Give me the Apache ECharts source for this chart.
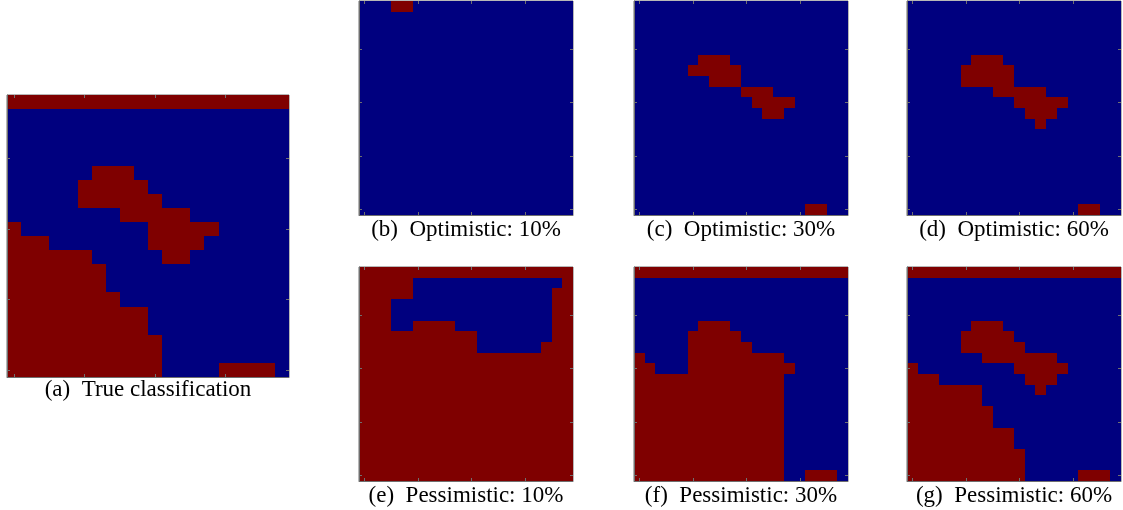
<!doctype html>
<html>
    <head>
        <meta charset="utf-8">
        <title>Classification maps</title>
        <style>
            html, body { margin: 0; padding: 0; background: #fff; }
            #main { width: 1123px; height: 510px; }
        </style>
    </head>
    <body>
        <div id="main"></div>
        <script src="https://cdn.jsdelivr.net/npm/echarts@6/dist/echarts.min.js"></script>
        <script>
            // 20x20 maps, rows listed top to bottom, 1 = red class, 0 = blue class
            var trueClass = [
                '11111111111111111111',
                '00000000000000000000',
                '00000000000000000000',
                '00000000000000000000',
                '00000000000000000000',
                '00000011100000000000',
                '00000111110000000000',
                '00000111111000000000',
                '00000000111110000000',
                '10000000001111100000',
                '11100000001111000000',
                '11111100000110000000',
                '11111110000000000000',
                '11111110000000000000',
                '11111111000000000000',
                '11111111110000000000',
                '11111111110000000000',
                '11111111111000000000',
                '11111111111000000000',
                '11111111111000011110'
            ];
            var optimistic10 = [
                '00011000000000000000',
                '00000000000000000000',
                '00000000000000000000',
                '00000000000000000000',
                '00000000000000000000',
                '00000000000000000000',
                '00000000000000000000',
                '00000000000000000000',
                '00000000000000000000',
                '00000000000000000000',
                '00000000000000000000',
                '00000000000000000000',
                '00000000000000000000',
                '00000000000000000000',
                '00000000000000000000',
                '00000000000000000000',
                '00000000000000000000',
                '00000000000000000000',
                '00000000000000000000',
                '00000000000000000000'
            ];
            var optimistic30 = [
                '00000000000000000000',
                '00000000000000000000',
                '00000000000000000000',
                '00000000000000000000',
                '00000000000000000000',
                '00000011100000000000',
                '00000111110000000000',
                '00000001110000000000',
                '00000000001110000000',
                '00000000000111100000',
                '00000000000011000000',
                '00000000000000000000',
                '00000000000000000000',
                '00000000000000000000',
                '00000000000000000000',
                '00000000000000000000',
                '00000000000000000000',
                '00000000000000000000',
                '00000000000000000000',
                '00000000000000001100'
            ];
            var optimistic60 = [
                '00000000000000000000',
                '00000000000000000000',
                '00000000000000000000',
                '00000000000000000000',
                '00000000000000000000',
                '00000011100000000000',
                '00000111110000000000',
                '00000111110000000000',
                '00000000111110000000',
                '00000000001111100000',
                '00000000000111000000',
                '00000000000010000000',
                '00000000000000000000',
                '00000000000000000000',
                '00000000000000000000',
                '00000000000000000000',
                '00000000000000000000',
                '00000000000000000000',
                '00000000000000000000',
                '00000000000000001100'
            ];
            var pessimistic10 = [
                '11111111111111111111',
                '11111000000000000001',
                '11111000000000000011',
                '11100000000000000011',
                '11100000000000000011',
                '11100111100000000011',
                '11111111111000000011',
                '11111111111000000111',
                '11111111111111111111',
                '11111111111111111111',
                '11111111111111111111',
                '11111111111111111111',
                '11111111111111111111',
                '11111111111111111111',
                '11111111111111111111',
                '11111111111111111111',
                '11111111111111111111',
                '11111111111111111111',
                '11111111111111111111',
                '11111111111111111111'
            ];
            var pessimistic30 = [
                '11111111111111111111',
                '00000000000000000000',
                '00000000000000000000',
                '00000000000000000000',
                '00000000000000000000',
                '00000011100000000000',
                '00000111110000000000',
                '00000111111000000000',
                '10000111111111000000',
                '11000111111111100000',
                '11111111111111000000',
                '11111111111111000000',
                '11111111111111000000',
                '11111111111111000000',
                '11111111111111000000',
                '11111111111111000000',
                '11111111111111000000',
                '11111111111111000000',
                '11111111111111000000',
                '11111111111111001110'
            ];
            var pessimistic60 = [
                '11111111111111111111',
                '00000000000000000000',
                '00000000000000000000',
                '00000000000000000000',
                '00000000000000000000',
                '00000011100000000000',
                '00000111110000000000',
                '00000111111000000000',
                '00000001111111000000',
                '10000000001111100000',
                '11100000000111000000',
                '11111110000010000000',
                '11111110000000000000',
                '11111111000000000000',
                '11111111000000000000',
                '11111111110000000000',
                '11111111110000000000',
                '11111111111000000000',
                '11111111111000000000',
                '11111111111000001110'
            ];
            var captions = [
                '(a)  True classification',
                '(b)  Optimistic: 10%',
                '(c)  Optimistic: 30%',
                '(d)  Optimistic: 60%',
                '(e)  Pessimistic: 10%',
                '(f)  Pessimistic: 30%',
                '(g)  Pessimistic: 60%'
            ];
            var tickValues = [0, 5, 10, 15];

            var maps = [trueClass, optimistic10, optimistic30, optimistic60,
                        pessimistic10, pessimistic30, pessimistic60];
            var boxes = [
                {left: 7, top: 95, size: 282},
                {left: 359, top: 1, size: 214},
                {left: 634, top: 1, size: 214},
                {left: 907, top: 1, size: 214},
                {left: 359, top: 267, size: 214},
                {left: 634, top: 267, size: 214},
                {left: 907, top: 267, size: 214}
            ];
            var BLUE = '#00007f';
            var RED = '#7f0000';
            var N = 20;

            function toCells(rows) {
                var cells = [];
                rows.forEach(function (row, r) {
                    for (var c = 0; c < row.length; c++) {
                        cells.push([c, N - 1 - r, +row.charAt(c)]);
                    }
                });
                return cells;
            }

            function renderCell(params, api) {
                var x = api.value(0), y = api.value(1);
                var p0 = api.coord([x - 0.5, y + 0.5]);
                var p1 = api.coord([x + 0.5, y - 0.5]);
                // snap to whole pixels so neighbouring cells leave no seams
                var x0 = Math.round(p0[0]), y0 = Math.round(p0[1]);
                var x1 = Math.round(p1[0]), y1 = Math.round(p1[1]);
                return {
                    type: 'rect',
                    shape: {x: x0, y: y0, width: x1 - x0, height: y1 - y0},
                    style: {fill: api.value(2) ? RED : BLUE}
                };
            }

            function axis(i, position) {
                var main = position === 'bottom' || position === 'left';
                return {
                    gridIndex: i,
                    type: 'value',
                    position: position,
                    min: -0.5,
                    max: N - 0.5,
                    z: 10,
                    axisLine: {show: main, onZero: false, lineStyle: {color: '#6f6f6f', width: 1}},
                    axisTick: {show: true, inside: true, length: 3, customValues: tickValues,
                               lineStyle: {color: '#6f6f6f', width: 1}},
                    axisLabel: {show: false},
                    splitLine: {show: false}
                };
            }

            var grids = [], xAxes = [], yAxes = [], series = [], texts = [];
            boxes.forEach(function (b, i) {
                grids.push({left: b.left, top: b.top, width: b.size, height: b.size,
                            show: true, borderColor: '#6f6f6f', borderWidth: 1,
                            backgroundColor: 'transparent'});
                xAxes.push(axis(i, 'bottom'));
                yAxes.push(axis(i, 'left'));
                series.push({
                    type: 'custom',
                    xAxisIndex: i,
                    yAxisIndex: i,
                    renderItem: renderCell,
                    encode: {x: 0, y: 1},
                    data: toCells(maps[i]),
                    silent: true
                });
                texts.push({
                    type: 'text',
                    style: {
                        text: captions[i],
                        x: b.left + b.size / 2,
                        y: b.top + b.size + (i === 0 ? 12.7 : (i < 4 ? 14.7 : 15)),
                        align: 'center',
                        verticalAlign: 'middle',
                        fill: '#000',
                        font: '23px "Liberation Serif"'
                    }
                });
            });
            boxes.forEach(function (b, i) {
                xAxes.push(axis(i, 'top'));
                yAxes.push(axis(i, 'right'));
            });

            var chart = echarts.init(document.getElementById('main'));
            chart.setOption({
                animation: false,
                grid: grids,
                xAxis: xAxes,
                yAxis: yAxes,
                series: series,
                graphic: texts
            });

            window.addEventListener('resize', function () {
                chart.resize();
            });
        </script>
    </body>
</html>
